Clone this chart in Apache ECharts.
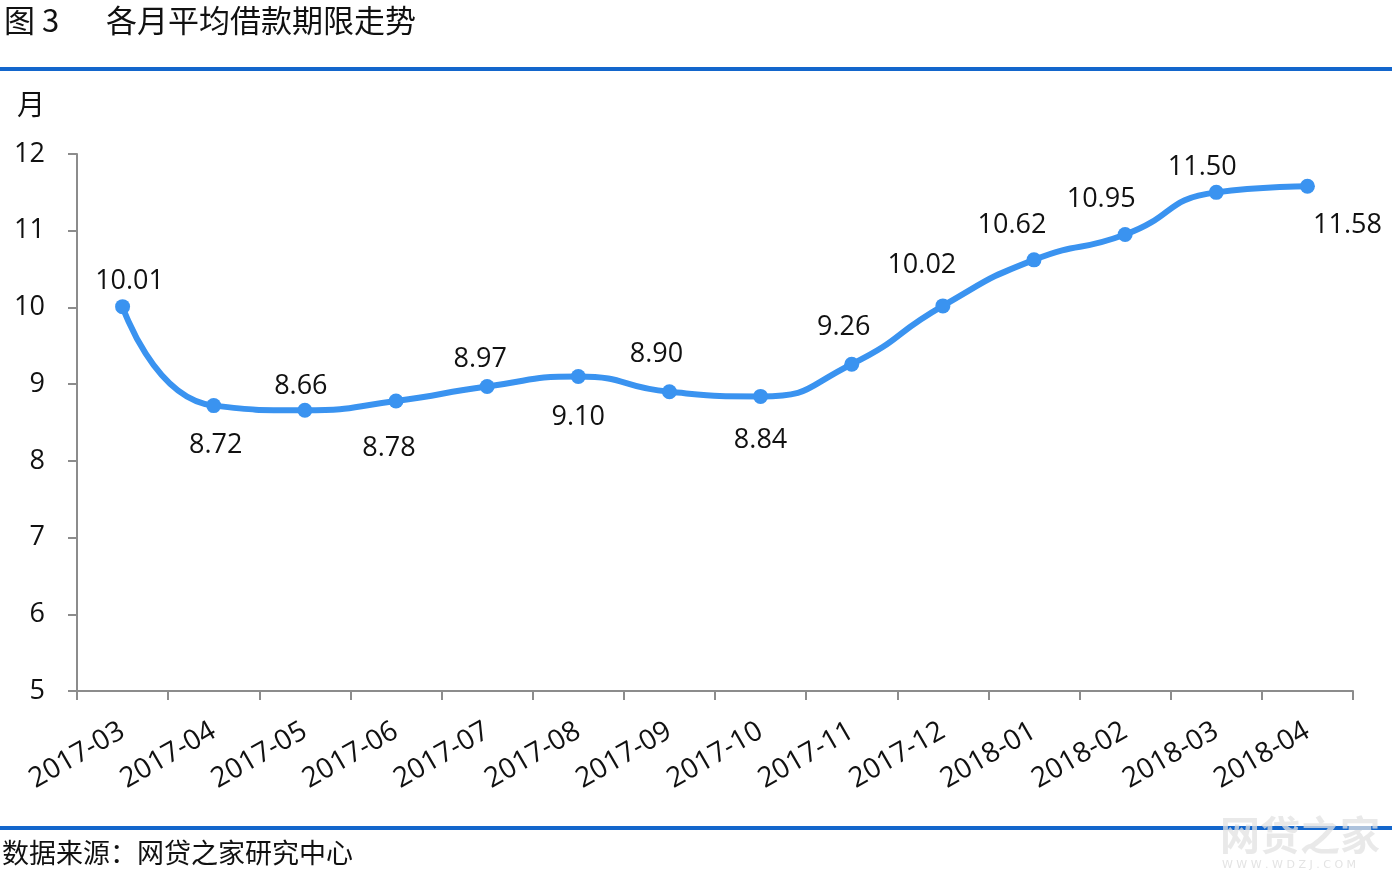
<!DOCTYPE html>
<html><head><meta charset="utf-8">
<script src="https://cdn.jsdelivr.net/npm/echarts@6/dist/echarts.min.js"></script>
<style>html,body{margin:0;padding:0;background:#fff}#c{width:1392px;height:878px}</style>
</head><body><div id="c"></div>
<script>
const categories = ['2017-03','2017-04','2017-05','2017-06','2017-07','2017-08','2017-09','2017-10','2017-11','2017-12','2018-01','2018-02','2018-03','2018-04'];
const values = [10.01,8.72,8.66,8.78,8.97,9.10,8.90,8.84,9.26,10.02,10.62,10.95,11.50,11.58];
const labelSide = ['top','bottom','top','bottom','top','bottom','top','bottom','top','top','top','top','top','bottom'];
const labelShift = [[7,5],[2,-1],[-4,6],[-7,6],[-7,3],[0,0],[-13,-8],[0,3],[-8,-7],[-21,-11],[-22,-5],[-24,-5],[-14,5],[40,-2]];
const yTicks = [5,6,7,8,9,10,11,12];

const FONT = '"Open Sans","Noto Sans CJK SC",sans-serif';
const chart = echarts.init(document.getElementById('c'), null, {renderer:'canvas'});
const data = values.map((v,i)=>({
  value:v,
  label:{position:labelSide[i], offset:labelShift[i], distance: labelSide[i]==='top'?9:20}
}));
chart.setOption({
  animation:false,
  grid:{left:77,right:39,top:154,bottom:187,containLabel:false},
  xAxis:{type:'category',data:categories,boundaryGap:true,
    axisLine:{lineStyle:{color:'#8c8c8c',width:2}},
    axisTick:{show:true,length:9,lineStyle:{color:'#8c8c8c',width:2},alignWithLabel:false},
    axisLabel:{rotate:30,color:'#111',fontSize:28,fontFamily:FONT,margin:38,interval:0}},
  yAxis:{type:'value',min:yTicks[0],max:yTicks[yTicks.length-1],interval:1,
    splitLine:{show:false},
    axisLine:{show:true,lineStyle:{color:'#8c8c8c',width:2}},
    axisTick:{show:true,length:9,lineStyle:{color:'#8c8c8c',width:2}},
    axisLabel:{color:'#111',fontSize:27,fontFamily:FONT,margin:32}},
  series:[{type:'line',data:data,smooth:0.55,symbol:'circle',symbolSize:15,
    lineStyle:{color:'#3a93f0',width:6},itemStyle:{color:'#3a93f0'},
    label:{show:true,color:'#111',fontSize:27,fontFamily:FONT,formatter:p=>p.value.toFixed(2)}}],
  graphic:[
    {type:'text',left:4,top:5,style:{text:'图 3',font:'31px "Noto Sans CJK SC"',fill:'#111'}},
    {type:'text',left:106,top:5,style:{text:'各月平均借款期限走势',font:'31px "Noto Sans CJK SC"',fill:'#111'}},
    {type:'rect',shape:{x:0,y:67,width:1392,height:4},style:{fill:'#1366cc'}},
    {type:'text',left:17,top:90,style:{text:'月',font:'28px "Noto Sans CJK SC"',fill:'#111'}},
    {type:'rect',shape:{x:0,y:826,width:1392,height:4},style:{fill:'#1366cc'}},
    {type:'text',left:2,top:839,style:{text:'数据来源：网贷之家研究中心',font:'27px "Noto Sans CJK SC"',fill:'#111'}},
    {type:'text',left:1220,top:815,z:10,style:{text:'网贷之家',font:'bold 40px "Noto Sans CJK SC"',fill:'rgba(225,225,225,0.75)'}},
    {type:'text',left:1222,top:860,z:10,style:{text:'W W W . W D Z J . C O M',font:'11px "DejaVu Sans"',fill:'rgba(220,220,220,0.8)'}}
  ]
});
</script></body></html>
